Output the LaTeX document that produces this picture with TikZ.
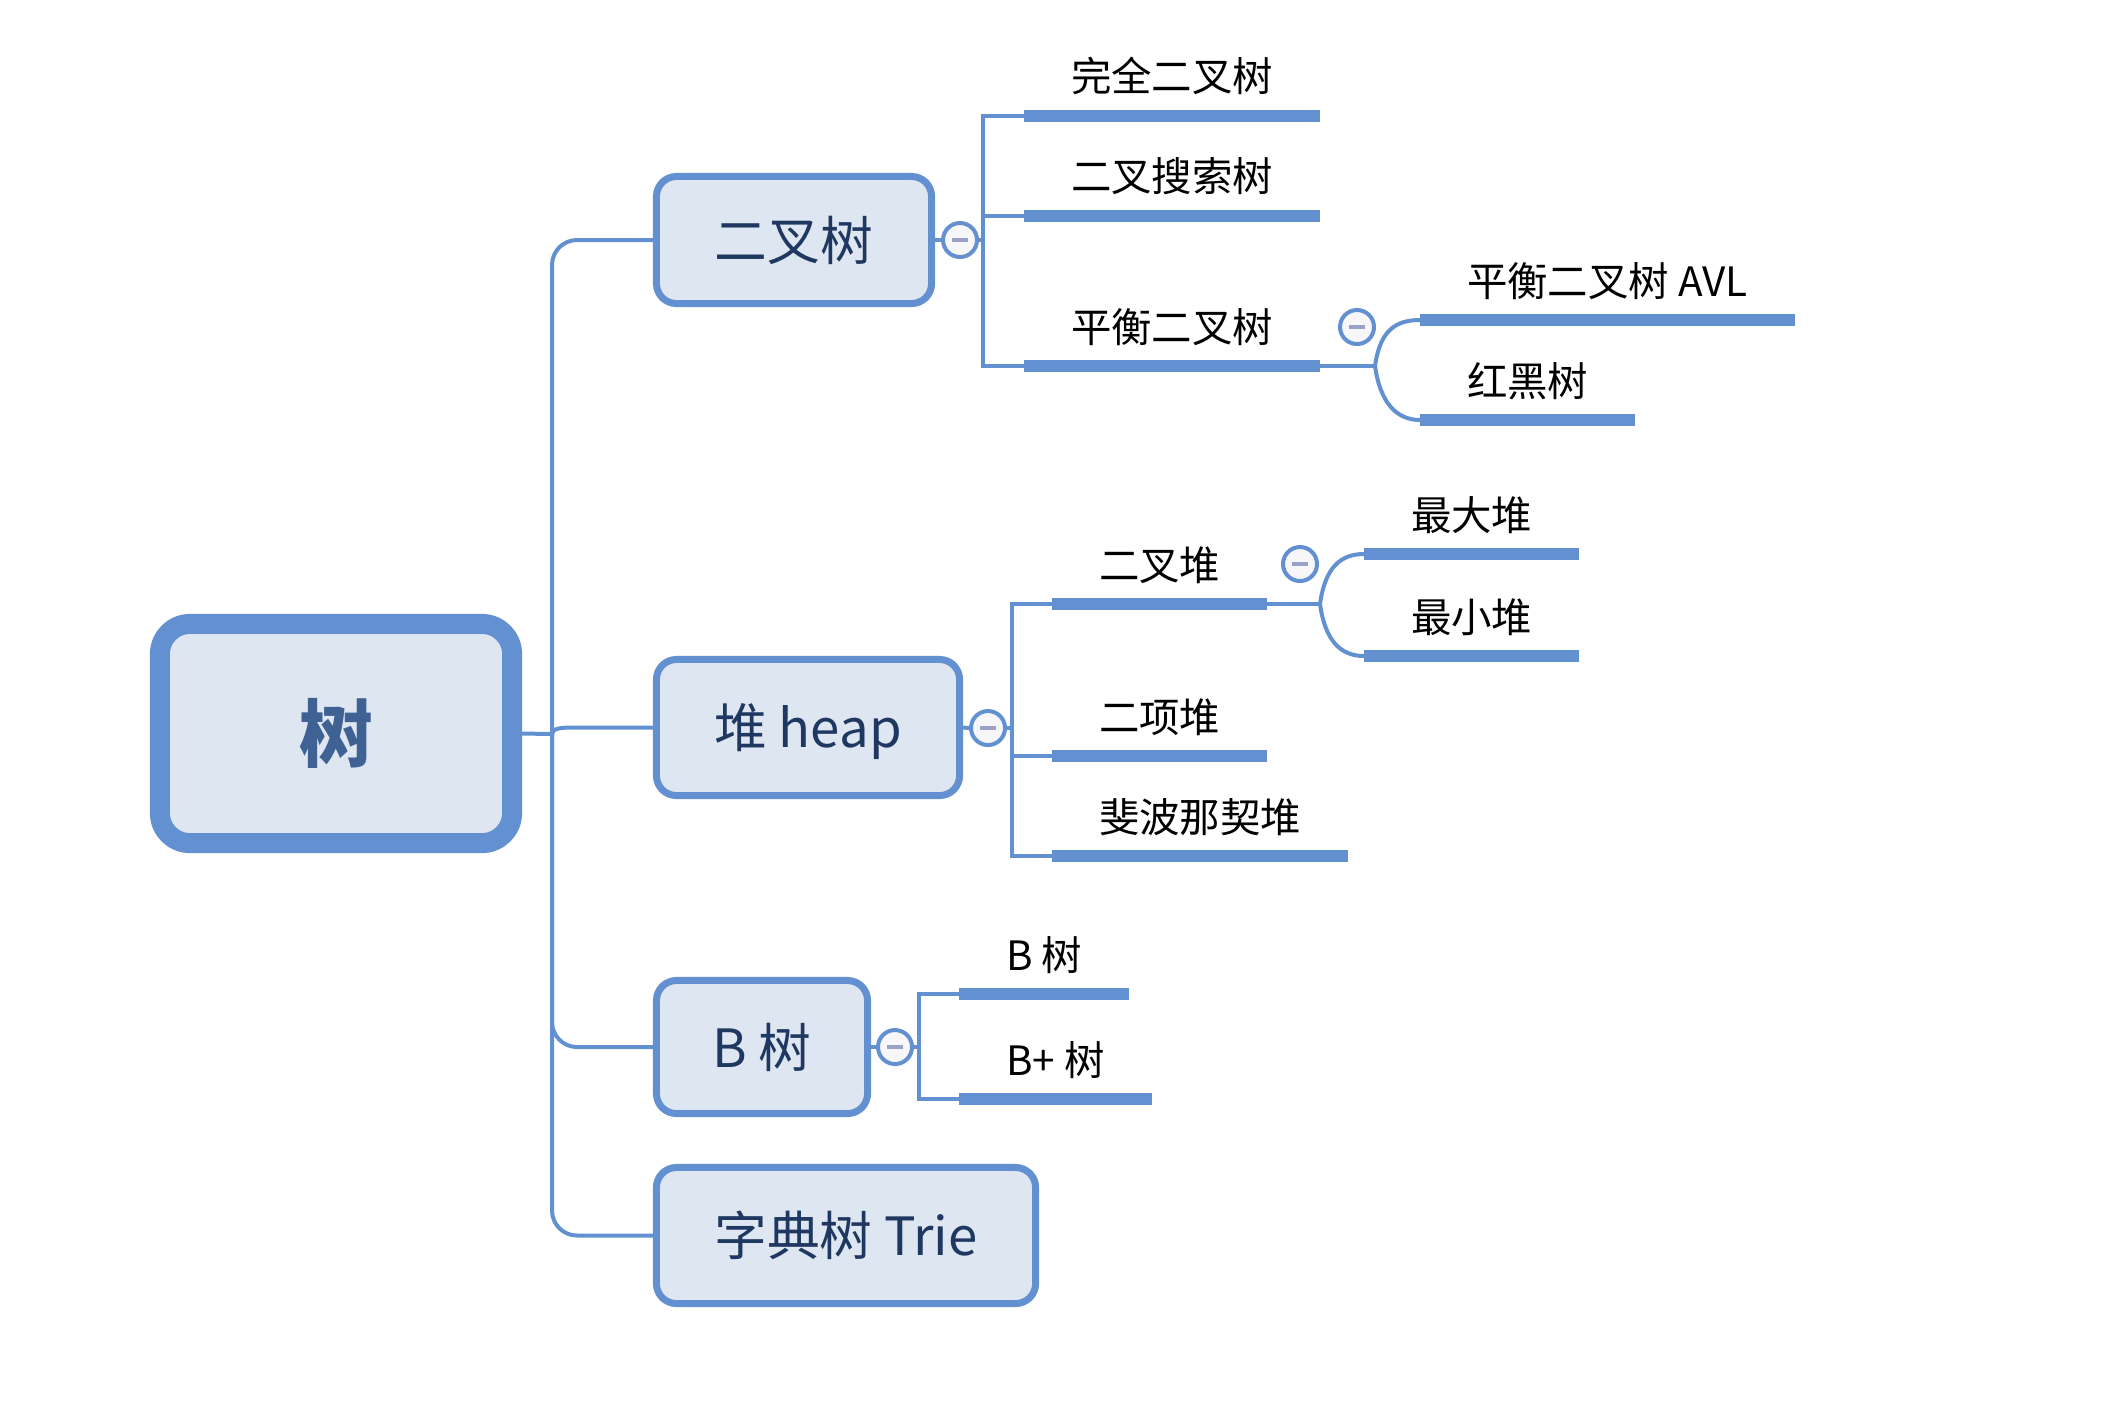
\documentclass[tikz,border=0pt]{standalone}
\usepackage{fontspec}
\setmainfont{Noto Sans CJK SC}
\usepackage{xcolor}
\definecolor{branch}{HTML}{6390D0}
\definecolor{boxfill}{HTML}{DEE6F1}
\definecolor{boxtext}{HTML}{1F3861}
\definecolor{roottext}{HTML}{3F6193}
\definecolor{foldfill}{HTML}{F7F7FA}
\definecolor{foldmark}{HTML}{9AA2C8}

\begin{document}
\begin{tikzpicture}[
  x=0.01cm, y=-0.01cm,
  link/.style={draw=branch, line width=0.04cm},
  underbar/.style={draw=branch, line width=0.12cm},
  topic/.style={draw=branch, fill=boxfill, line width=0.07cm, rounded corners=0.2cm, inner sep=0pt, text=boxtext, font=\fontsize{15pt}{18pt}\selectfont, text height=0.46cm, text depth=0.06cm},
  maintopic/.style={topic, line width=0.2cm, rounded corners=0.3cm, text=roottext, font=\fontsize{21pt}{25pt}\selectfont\bfseries, text height=0.64cm, text depth=0.08cm},
  leafnode/.style={anchor=south west, inner xsep=0.47cm, inner ysep=0pt, outer sep=0pt, text height=0.36cm, text depth=0.24cm, font=\fontsize{11.5pt}{14pt}\selectfont},
  foldbtn/.style={circle, draw=branch, fill=foldfill, line width=0.04cm, minimum size=0.34cm, inner sep=0pt}
]
\useasboundingbox (0,0) rectangle (2104,1408);

% main topics
\node[maintopic, minimum width=3.52cm, minimum height=2.19cm] (tree) at (336,733.5) {树};
\node[topic, minimum width=2.75cm, minimum height=1.27cm] (bt) at (794,240) {二叉树};
\node[topic, minimum width=3.03cm, minimum height=1.36cm] (heap) at (808,727.5) {堆 heap};
\node[topic, minimum width=2.11cm, minimum height=1.33cm] (btree) at (762,1047) {B 树};
\node[topic, minimum width=3.79cm, minimum height=1.36cm] (trie) at (846,1235.5) {字典树 Trie};

% leaves
\node[leafnode] (cbt) at (1024,116) {完全二叉树};
\node[leafnode] (bst) at (1024,216) {二叉搜索树};
\node[leafnode] (bal) at (1024,366) {平衡二叉树};
\node[leafnode] (avl) at (1420,320) {平衡二叉树 AVL};
\node[leafnode] (rbt) at (1420,420) {红黑树};
\node[leafnode] (bheap) at (1052,604) {二叉堆};
\node[leafnode] (maxh) at (1364,554) {最大堆};
\node[leafnode] (minh) at (1364,656) {最小堆};
\node[leafnode] (binom) at (1052,756) {二项堆};
\node[leafnode] (fib) at (1052,856) {斐波那契堆};
\node[leafnode] (btr) at (959,994) {B 树};
\node[leafnode] (bpt) at (959,1099) {B+ 树};

\draw[underbar] (cbt.south west) -- (cbt.south east);
\draw[underbar] (bst.south west) -- (bst.south east);
\draw[underbar] (bal.south west) -- (bal.south east);
\draw[underbar] (avl.south west) -- (avl.south east);
\draw[underbar] (rbt.south west) -- (rbt.south east);
\draw[underbar] (bheap.south west) -- (bheap.south east);
\draw[underbar] (maxh.south west) -- (maxh.south east);
\draw[underbar] (minh.south west) -- (minh.south east);
\draw[underbar] (binom.south west) -- (binom.south east);
\draw[underbar] (fib.south west) -- (fib.south east);
\draw[underbar] (btr.south west) -- (btr.south east);
\draw[underbar] (bpt.south west) -- (bpt.south east);

% trunk
\coordinate (trunk) at (552,734);
\draw[link] (tree.east) -- (trunk);
\draw[link, rounded corners=0.25cm] (trunk) |- (bt.west);
\draw[link] (trunk) .. controls +(0,-6) and +(-12,0) .. ++(22,-6.5) -- (heap.west);
\draw[link, rounded corners=0.25cm] (trunk) |- (btree.west);
\draw[link, rounded corners=0.25cm] (trunk) |- (trie.west);

% fold buttons
\node[foldbtn] (btf) at (960,240) {\textcolor{foldmark}{\rule{0.16cm}{0.045cm}}};
\node[foldbtn] (heapf) at (988,728) {\textcolor{foldmark}{\rule{0.16cm}{0.045cm}}};
\node[foldbtn] (btreef) at (895,1047) {\textcolor{foldmark}{\rule{0.16cm}{0.045cm}}};
\node[foldbtn] (balf) at (1357,327) {\textcolor{foldmark}{\rule{0.16cm}{0.045cm}}};
\node[foldbtn] (bheapf) at (1300,564) {\textcolor{foldmark}{\rule{0.16cm}{0.045cm}}};

% binary tree branch
\coordinate (btb) at (983,240);
\draw[link] (bt.east) -- (btf.west);
\draw[link] (btf.east) -- (btb);
\draw[link] (btb) |- (cbt.south west);
\draw[link] (btb) |- (bst.south west);
\draw[link] (btb) |- (bal.south west);
\coordinate (balb) at (1375,366);
\draw[link] (bal.south east) -- (balb);
\draw[link] (balb) .. controls +(5,-36) and +(-24,0) .. (avl.south west);
\draw[link] (balb) .. controls +(5,36) and +(-24,0) .. (rbt.south west);

% heap branch
\coordinate (heapb) at (1012,728);
\draw[link] (heap.east) -- (heapf.west);
\draw[link] (heapf.east) -- (heapb);
\draw[link] (heapb) |- (bheap.south west);
\draw[link] (heapb) |- (binom.south west);
\draw[link] (heapb) |- (fib.south west);
\coordinate (bheapb) at (1320,604);
\draw[link] (bheap.south east) -- (bheapb);
\draw[link] (bheapb) .. controls +(5,-36) and +(-24,0) .. (maxh.south west);
\draw[link] (bheapb) .. controls +(5,36) and +(-24,0) .. (minh.south west);

% b-tree branch
\coordinate (btreeb) at (919,1047);
\draw[link] (btree.east) -- (btreef.west);
\draw[link] (btreef.east) -- (btreeb);
\draw[link] (btreeb) |- (btr.south west);
\draw[link] (btreeb) |- (bpt.south west);

\end{tikzpicture}
\end{document}
